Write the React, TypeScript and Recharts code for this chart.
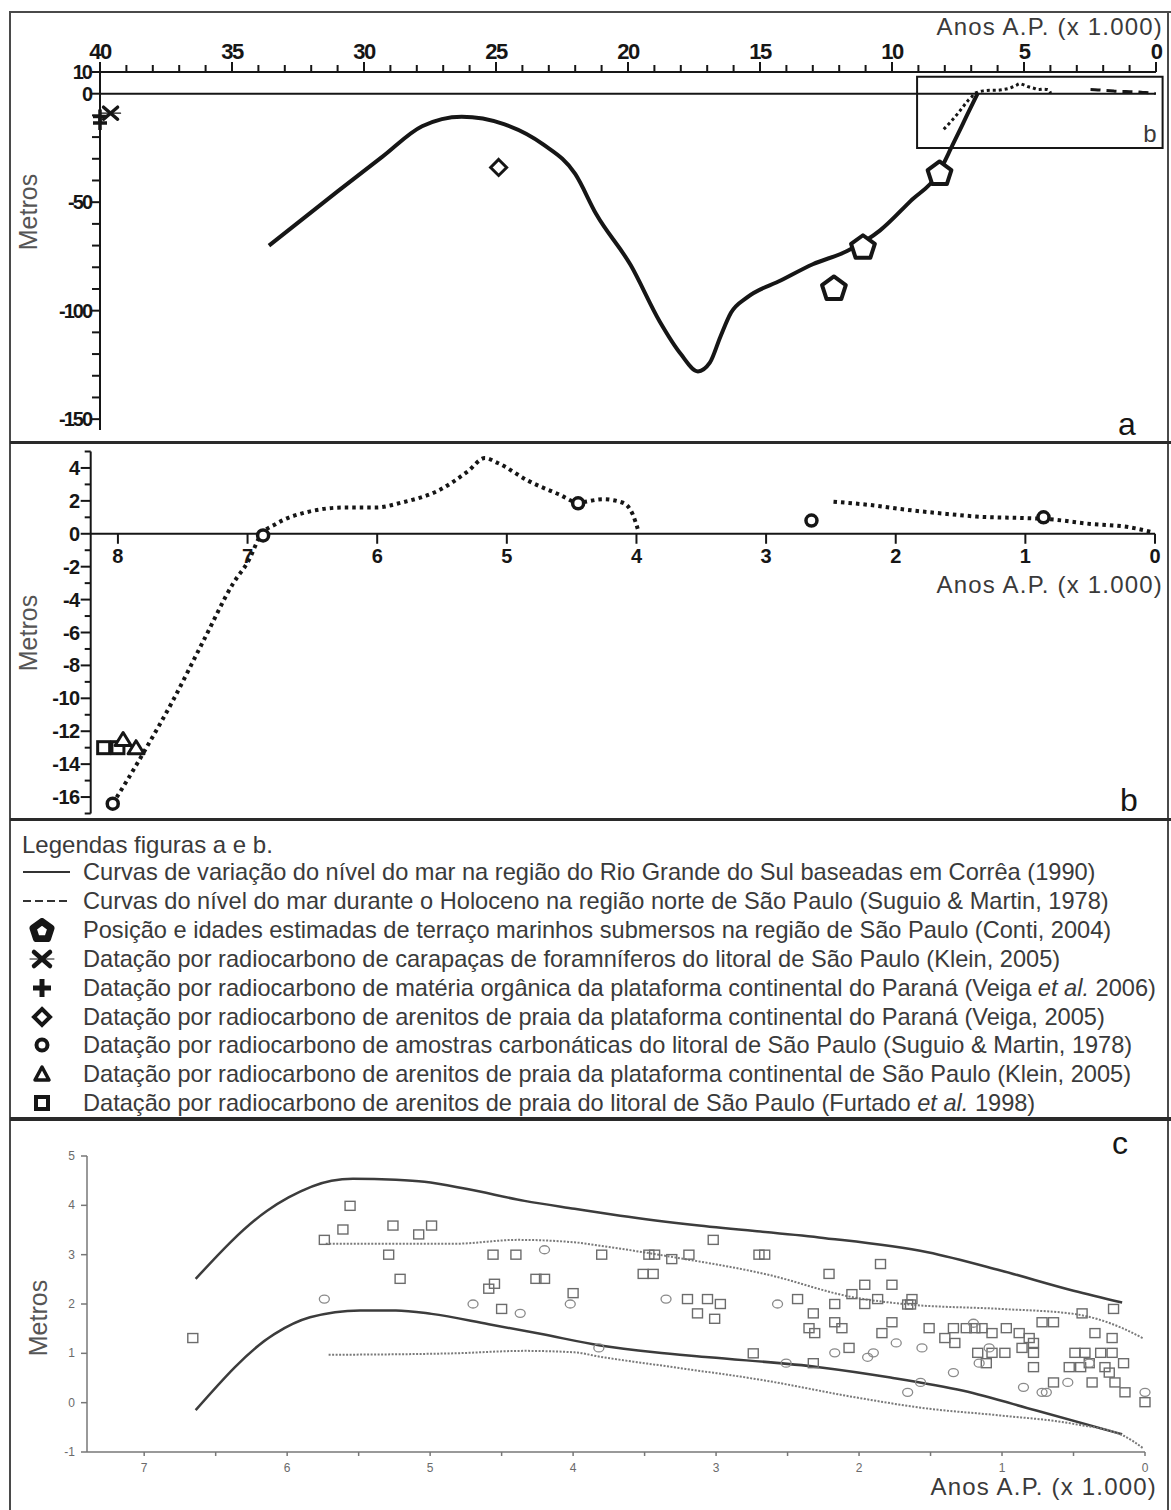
import React from "react";
import {
  ComposedChart, Line, Scatter, XAxis, YAxis, ReferenceLine, ReferenceArea,
} from "recharts";

const FONT = "'Liberation Sans', Arial, sans-serif";
const INK = "#161616";
const TXT = "#3a3a3a";

const pts = (a: number[][]) => a.map(([x, y]) => ({ x, y }));

// ---------- a: ultimos 40 mil anos (idade em ka AP, nivel em m)
const correaCurve = pts([
  [33.6, -70], [31.0, -45], [29.3, -29], [27.8, -15], [26.3, -10.6], [24.7, -14],
  [23.2, -23.5], [22.0, -37], [21.2, -55.6], [19.9, -79], [18.8, -105], [18.0, -120],
  [17.35, -128], [16.9, -124], [16.5, -112], [16.1, -101], [15.5, -94], [14.2, -86],
  [13.0, -78.6], [11.7, -72.5], [10.45, -63], [9.3, -49.5], [8.26, -37], [7.7, -23.5],
  [7.15, -9.7], [6.74, 0.5],
]);
const contiTerraces = pts([[8.2, -37], [11.1, -71], [12.2, -90]]);
const kleinForams = pts([[39.6, -9]]);
const veigaOrganic = pts([[40, -10.5], [40, -13.5]]);
const veigaBeachrock = pts([[24.9, -34]]);
const ageTicksA = Array.from({ length: 41 }, (_, i) => 40 - i);
const depthTicksA = [10, 0, -10, -20, -30, -40, -50, -60, -70, -80, -90, -100, -110, -120, -130, -140, -150];

// ---------- b: Holoceno (Suguio & Martin)
const holoceneEarly = pts([
  [8.04, -16.4], [7.93, -15.0], [7.78, -13.0], [7.58, -10.2], [7.34, -6.5], [7.11, -3.0],
  [6.99, -1.6], [6.9, -0.1], [6.78, 0.6], [6.55, 1.3], [6.25, 1.6], [6.01, 1.6], [5.81, 1.9],
  [5.51, 2.7], [5.3, 3.8], [5.17, 4.6], [5.07, 4.3], [4.83, 3.2], [4.6, 2.4], [4.45, 1.9],
  [4.26, 2.1], [4.11, 1.9], [4.03, 1.2], [3.99, 0.3],
]);
const holoceneLate = pts([
  [2.48, 1.95], [2.2, 1.75], [1.96, 1.5], [1.6, 1.2], [1.38, 1.05], [1.0, 0.95],
  [0.84, 0.9], [0.5, 0.6], [0.2, 0.4], [0.02, 0.1],
]);
const suguioCarbonates = pts([[8.04, -16.4], [6.88, -0.1], [4.45, 1.85], [2.65, 0.8], [0.86, 1.0]]);
const kleinBeachrockB = pts([[7.96, -12.5], [7.86, -13.0]]);
const furtadoBeachrockB = pts([[8.11, -13.0], [8.0, -13.0]]);
const ageTicksB = pts([[8, 0], [7, 0], [6, 0], [5, 0], [4, 0], [3, 0], [2, 0], [1, 0], [0, 0]]);
const depthTicksB = Array.from({ length: 23 }, (_, i) => 5 - i);

// ---------- c: envelope e datacoes
const upperSolid = pts([
  [6.64, 2.51], [6.14, 3.89], [5.99, 4.16], [5.69, 4.5], [5.54, 4.54], [5.24, 4.52],
  [5.04, 4.48], [4.74, 4.33], [4.34, 4.09], [3.99, 3.93], [3.67, 3.79], [3.12, 3.59],
  [2.28, 3.35], [1.52, 3.05], [1.01, 2.68], [0.5, 2.27], [0.16, 2.03],
]);
const lowerSolid = pts([
  [6.64, -0.15], [6.09, 1.39], [5.84, 1.73], [5.49, 1.87], [5.24, 1.87], [4.99, 1.8],
  [4.59, 1.59], [4.22, 1.39], [3.81, 1.16], [3.43, 1.02], [3.05, 0.92], [2.28, 0.72],
  [1.78, 0.51], [1.27, 0.24], [0.76, -0.16], [0.16, -0.64],
]);
const upperDotted = pts([
  [5.73, 3.22], [4.84, 3.22], [4.39, 3.3], [3.99, 3.25], [3.81, 3.18], [3.3, 2.95],
  [2.66, 2.61], [2.03, 2.13], [1.65, 1.99], [1.01, 1.9], [0.5, 1.8], [0.15, 1.5], [0.01, 1.3],
]);
const lowerDotted = pts([
  [5.71, 0.97], [4.84, 1.0], [4.34, 1.05], [3.99, 1.02], [3.81, 0.93], [3.3, 0.72],
  [2.66, 0.45], [2.03, 0.11], [1.52, -0.12], [1.01, -0.26], [0.5, -0.43], [0.15, -0.67], [0.01, -0.93],
]);
const squaresC = pts([
  [6.66, 1.31], [5.74, 3.3], [5.56, 3.99], [5.61, 3.51], [5.29, 3.0], [5.26, 3.59], [5.21, 2.51],
  [5.08, 3.41], [4.99, 3.59], [4.56, 3.0], [4.4, 3.0], [4.59, 2.31], [4.55, 2.41], [4.5, 1.9],
  [4.26, 2.51], [4.2, 2.51], [4.0, 2.22], [3.8, 3.0], [3.47, 3.0], [3.43, 3.0], [3.51, 2.61],
  [3.44, 2.61], [3.31, 2.91], [3.19, 3.0], [3.02, 3.3], [2.7, 3.0], [2.66, 3.0], [3.2, 2.1],
  [3.06, 2.1], [2.97, 2.0], [3.13, 1.81], [3.01, 1.7], [2.74, 1.0], [2.43, 2.1], [2.32, 1.81],
  [2.32, 0.8], [2.35, 1.51], [2.31, 1.41], [2.21, 2.61], [2.17, 2.0], [2.17, 1.63], [2.12, 1.51],
  [2.07, 1.11], [2.05, 2.2], [1.96, 2.39], [1.96, 2.0], [1.87, 2.1], [1.85, 2.81], [1.77, 2.39],
  [1.77, 1.63], [1.84, 1.41], [1.66, 1.99], [1.63, 2.1], [1.64, 1.99], [1.51, 1.51], [1.4, 1.31],
  [1.34, 1.51], [1.33, 1.21], [1.25, 1.51], [1.19, 1.51], [1.14, 1.51], [1.07, 1.41], [0.97, 1.51],
  [0.88, 1.41], [0.81, 1.31], [0.78, 1.21], [1.17, 1.01], [1.07, 1.01], [0.98, 1.01], [0.86, 1.11],
  [0.78, 1.01], [1.11, 0.8], [0.78, 0.72], [0.72, 1.63], [0.64, 1.63], [0.64, 0.41], [0.53, 0.72],
  [0.49, 1.01], [0.44, 1.81], [0.42, 1.01], [0.45, 0.72], [0.39, 0.8], [0.37, 0.41], [0.35, 1.41],
  [0.31, 1.01], [0.28, 0.72], [0.25, 0.61], [0.23, 1.01], [0.23, 1.31], [0.22, 1.9], [0.21, 0.41],
  [0.15, 0.8], [0.14, 0.21], [0.0, 0.01],
]);
const circlesC = pts([
  [5.74, 2.1], [4.7, 2.0], [4.37, 1.81], [4.2, 3.1], [4.02, 2.0], [3.82, 1.11], [3.35, 2.1],
  [2.57, 2.0], [2.51, 0.8], [2.17, 1.01], [1.94, 0.92], [1.9, 1.01], [1.74, 1.21], [1.56, 1.11],
  [1.57, 0.41], [1.66, 0.21], [1.34, 0.61], [1.2, 1.61], [1.09, 1.11], [1.16, 0.8], [0.85, 0.31],
  [0.72, 0.21], [0.69, 0.21], [0.54, 0.41], [0.39, 0.8], [0.0, 0.21],
]);
const ageTicksC = Array.from({ length: 15 }, (_, i) => i * 0.5);
const depthTicksC = [-1, 0, 1, 2, 3, 4, 5];

// ---------- simbolos
function pentagonPoints(cx: number, cy: number, r: number) {
  return [0, 1, 2, 3, 4]
    .map((k) => {
      const a = -Math.PI / 2 + (k * 2 * Math.PI) / 5;
      return `${cx + r * Math.cos(a)},${cy + r * Math.sin(a)}`;
    })
    .join(" ");
}
const Pentagon = (p: any) => (
  <polygon points={pentagonPoints(p.cx, p.cy, 12.5)} fill="#fff" stroke={INK} strokeWidth={4} strokeLinejoin="round" />
);
const Star = (p: any) => (
  <g stroke={INK} strokeLinecap="round">
    <line x1={p.cx - 7} y1={p.cy - 6} x2={p.cx + 7} y2={p.cy + 6} strokeWidth={3.5} />
    <line x1={p.cx - 7} y1={p.cy + 6} x2={p.cx + 7} y2={p.cy - 6} strokeWidth={3.5} />
    <line x1={p.cx - 10} y1={p.cy} x2={p.cx + 10} y2={p.cy} strokeWidth={1.2} />
  </g>
);
const Plus = (p: any) => (
  <g stroke={INK} strokeWidth={3.5}>
    <line x1={p.cx - 7} y1={p.cy} x2={p.cx + 7} y2={p.cy} />
    <line x1={p.cx} y1={p.cy - 7} x2={p.cx} y2={p.cy + 7} />
  </g>
);
const Diamond = (p: any) => (
  <polygon
    points={`${p.cx},${p.cy - 8} ${p.cx + 8},${p.cy} ${p.cx},${p.cy + 8} ${p.cx - 8},${p.cy}`}
    fill="#fff" stroke={INK} strokeWidth={3} />
);
const Ring = (p: any) => <circle cx={p.cx} cy={p.cy} r={5.5} fill="#fff" stroke={INK} strokeWidth={3.5} />;
const Tri = (p: any) => (
  <polygon
    points={`${p.cx},${p.cy - 7} ${p.cx + 8},${p.cy + 6} ${p.cx - 8},${p.cy + 6}`}
    fill="#fff" stroke={INK} strokeWidth={3} strokeLinejoin="round" />
);
const Sq = (p: any) => <rect x={p.cx - 6} y={p.cy - 6} width={12} height={12} fill="#fff" stroke={INK} strokeWidth={3} />;
const SqC = (p: any) => <rect x={p.cx - 5} y={p.cy - 4.5} width={10} height={9} fill="none" stroke="#6c6c6c" strokeWidth={1.4} />;
const CircC = (p: any) => <ellipse cx={p.cx} cy={p.cy} rx={5} ry={4} fill="none" stroke="#8a8a8a" strokeWidth={1.3} />;

// ---------- ticks
const boldTxt = { fontFamily: FONT, fontWeight: 700, fill: INK } as const;

function TopAgeTick(p: any) {
  const { x, y, payload } = p;
  const v = payload.value;
  const major = v % 5 === 0;
  return (
    <g>
      <line x1={x} x2={x} y1={y} y2={y - (major ? 10 : 7)} stroke={INK} strokeWidth={2} />
      {major && (
        <text x={x} y={y - 13} textAnchor="middle" fontSize={22} letterSpacing={-1.5} {...boldTxt}>{v}</text>
      )}
    </g>
  );
}
function DepthTickA(p: any) {
  const { x, y, payload } = p;
  const v = payload.value;
  const major = v % 50 === 0 || v === 10;
  return (
    <g>
      <line x1={x} x2={x - 8} y1={y} y2={y} stroke={INK} strokeWidth={2} />
      {major && (
        <text x={x - 9} y={y} dy={7} textAnchor="end" fontSize={20} letterSpacing={-2} {...boldTxt}>{v}</text>
      )}
    </g>
  );
}
function DepthTickB(p: any) {
  const { x, y, payload } = p;
  const v = payload.value;
  const major = v % 2 === 0 && v >= -16 && v <= 4;
  return (
    <g>
      <line x1={x} x2={x - (major ? 10 : 6)} y1={y} y2={y} stroke={INK} strokeWidth={2} />
      {major && (
        <text x={x - 11} y={y} dy={7} textAnchor="end" fontSize={20} letterSpacing={-0.5} {...boldTxt}>{v}</text>
      )}
    </g>
  );
}
const AgeTickB = (p: any) => (
  <g>
    <line x1={p.cx} x2={p.cx} y1={p.cy} y2={p.cy + 10} stroke={INK} strokeWidth={2} />
    <text x={p.cx} y={p.cy + 29} textAnchor="middle" fontSize={20} {...boldTxt}>{p.payload.x}</text>
  </g>
);
function AgeTickC(p: any) {
  const { x, y, payload } = p;
  const v = payload.value;
  const major = Number.isInteger(v);
  return (
    <g>
      <line x1={x} x2={x} y1={y} y2={y + 4} stroke="#777" strokeWidth={1.5} />
      {major && (
        <text x={x} y={y + 20} textAnchor="middle" fontFamily={FONT} fontSize={12} fill="#6a6a6a">{v}</text>
      )}
    </g>
  );
}
function DepthTickC(p: any) {
  const { x, y, payload } = p;
  return (
    <g>
      <line x1={x} x2={x - 6} y1={y} y2={y} stroke="#777" strokeWidth={1.5} />
      <text x={x - 12} y={y} dy={4} textAnchor="end" fontFamily={FONT} fontSize={12} fill="#6a6a6a">{payload.value}</text>
    </g>
  );
}

// ---------- textos
const anosStyle: React.CSSProperties = {
  position: "absolute", right: 8, fontFamily: FONT, fontSize: 24, letterSpacing: 1.2,
  color: TXT, whiteSpace: "nowrap", lineHeight: "28px",
};
const Metros = ({ cx, cy }: { cx: number; cy: number }) => (
  <div style={{
    position: "absolute", left: cx - 50, top: cy - 14, width: 100, height: 28, lineHeight: "28px",
    textAlign: "center", transform: "rotate(-90deg)", fontFamily: FONT, fontSize: 25, color: "#555",
  }}>Metros</div>
);
const PanelLetter = ({ x, y, t }: { x: number; y: number; t: string }) => (
  <div style={{ position: "absolute", left: x, top: y - 20, lineHeight: "40px", fontFamily: FONT, fontSize: 32, color: INK }}>{t}</div>
);

const legendItems: { sym: string; text: React.ReactNode }[] = [
  { sym: "solid", text: "Curvas de variação do nível do mar na região do Rio Grande do Sul baseadas em Corrêa (1990)" },
  { sym: "dash", text: "Curvas do nível do mar durante o Holoceno na região norte de São Paulo (Suguio & Martin, 1978)" },
  { sym: "pent", text: "Posição e idades estimadas de terraço marinhos submersos na região de São Paulo (Conti, 2004)" },
  { sym: "star", text: "Datação por radiocarbono de carapaças de foramníferos do litoral de São Paulo (Klein, 2005)" },
  { sym: "plus", text: <>Datação por radiocarbono de matéria orgânica da plataforma continental do Paraná (Veiga <i>et al.</i> 2006)</> },
  { sym: "diam", text: "Datação por radiocarbono de arenitos de praia da plataforma continental do Paraná (Veiga, 2005)" },
  { sym: "circ", text: "Datação por radiocarbono de amostras carbonáticas do litoral de São Paulo (Suguio & Martin, 1978)" },
  { sym: "tri", text: "Datação por radiocarbono de arenitos de praia da plataforma continental de São Paulo (Klein, 2005)" },
  { sym: "sq", text: <>Datação por radiocarbono de arenitos de praia do litoral de São Paulo (Furtado <i>et al.</i> 1998)</> },
];

function LegendSymbol({ kind }: { kind: string }) {
  let el: React.ReactNode = null;
  if (kind === "solid") el = <line x1={1} x2={48} y1={12} y2={12} stroke="#333" strokeWidth={2} />;
  else if (kind === "dash") el = <line x1={1} x2={48} y1={12} y2={12} stroke="#333" strokeWidth={2} strokeDasharray="8 4" />;
  else if (kind === "pent") el = <polygon points={pentagonPoints(20, 13, 9.5)} fill="#fff" stroke={INK} strokeWidth={7} strokeLinejoin="round" />;
  else if (kind === "star") el = (
    <g stroke={INK} strokeLinecap="round">
      <line x1={12} y1={5} x2={28} y2={19} strokeWidth={4.5} />
      <line x1={12} y1={19} x2={28} y2={5} strokeWidth={4.5} />
      <line x1={8} y1={12} x2={32} y2={12} strokeWidth={1} />
    </g>
  );
  else if (kind === "plus") el = (
    <g stroke={INK} strokeWidth={5}>
      <line x1={11} y1={12} x2={29} y2={12} />
      <line x1={20} y1={3} x2={20} y2={21} />
    </g>
  );
  else if (kind === "diam") el = <polygon points="20,4 28,12 20,20 12,12" fill="#fff" stroke={INK} strokeWidth={4} />;
  else if (kind === "circ") el = <circle cx={20} cy={12} r={5.5} fill="#fff" stroke={INK} strokeWidth={4} />;
  else if (kind === "tri") el = <polygon points="20,5 27,18 13,18" fill="#fff" stroke={INK} strokeWidth={3.5} strokeLinejoin="round" />;
  else el = <rect x={14} y={6} width={12} height={12} fill="#fff" stroke={INK} strokeWidth={4} />;
  return <svg width={50} height={24} style={{ position: "absolute", left: 22, top: 2 }}>{el}</svg>;
}

const hLine = (top: number, h: number, color = "#2a2a2a") => (
  <div style={{ position: "absolute", left: 10, width: 1161, top, height: h, background: color }} />
);

export default function App() {
  return (
    <div style={{ position: "absolute", left: 0, top: 0, width: 1171, height: 1510, overflow: "hidden", background: "#fff" }}>
      {/* panel a */}
      <div style={{ position: "absolute", left: 0, top: 0 }}>
        <ComposedChart width={1171} height={440} margin={{ top: 42, right: 15, bottom: 10, left: 40 }}>
          <XAxis type="number" dataKey="x" orientation="top" domain={[0, 40]} reversed
            ticks={ageTicksA} interval={0} height={30} tickSize={0} tickMargin={0}
            axisLine={{ stroke: INK, strokeWidth: 2 }} tick={TopAgeTick} />
          <YAxis type="number" dataKey="y" domain={[-155, 10]} width={60}
            ticks={depthTicksA} interval={0} tickSize={0} tickMargin={0}
            axisLine={{ stroke: INK, strokeWidth: 2 }} tick={DepthTickA} />
          <ReferenceLine y={0} stroke={INK} strokeWidth={2} />
          <ReferenceArea x1={9.05} x2={-0.25} y1={-25} y2={7.8} ifOverflow="visible" fill="none"
            stroke={INK} strokeWidth={2} fillOpacity={0}
            label={{ value: "b", position: "insideBottomRight", offset: 6, fontSize: 24, fontFamily: FONT, fill: TXT }} />
          <Line data={correaCurve} dataKey="y" type="monotone" stroke={INK} strokeWidth={4} dot={false} isAnimationActive={false} />
          <Line data={holoceneEarly} dataKey="y" type="monotone" stroke={INK} strokeWidth={3} strokeDasharray="3 3" dot={false} isAnimationActive={false} />
          <Line data={holoceneLate} dataKey="y" type="monotone" stroke={INK} strokeWidth={3} strokeDasharray="10 6" dot={false} isAnimationActive={false} />
          <Scatter data={contiTerraces} dataKey="y" shape={Pentagon} isAnimationActive={false} />
          <Scatter data={kleinForams} dataKey="y" shape={Star} isAnimationActive={false} />
          <Scatter data={veigaOrganic} dataKey="y" shape={Plus} isAnimationActive={false} />
          <Scatter data={veigaBeachrock} dataKey="y" shape={Diamond} isAnimationActive={false} />
        </ComposedChart>
      </div>

      {/* panel b */}
      <div style={{ position: "absolute", left: 0, top: 443 }}>
        <ComposedChart width={1171} height={380} margin={{ top: 8.5, right: 16, bottom: 9.5, left: 30.7 }}>
          <XAxis type="number" dataKey="x" domain={[0, 8.21]} reversed hide />
          <YAxis type="number" dataKey="y" domain={[-17, 5]} width={60}
            ticks={depthTicksB} interval={0} tickSize={0} tickMargin={0}
            axisLine={{ stroke: INK, strokeWidth: 2 }} tick={DepthTickB} />
          <ReferenceLine y={0} stroke={INK} strokeWidth={2} />
          <Scatter data={ageTicksB} dataKey="y" shape={AgeTickB} isAnimationActive={false} />
          <Line data={holoceneEarly} dataKey="y" type="monotone" stroke={INK} strokeWidth={4} strokeDasharray="3.5 4" dot={false} isAnimationActive={false} />
          <Line data={holoceneLate} dataKey="y" type="monotone" stroke={INK} strokeWidth={4} strokeDasharray="3.5 4" dot={false} isAnimationActive={false} />
          <Scatter data={furtadoBeachrockB} dataKey="y" shape={Sq} isAnimationActive={false} />
          <Scatter data={kleinBeachrockB} dataKey="y" shape={Tri} isAnimationActive={false} />
          <Scatter data={suguioCarbonates} dataKey="y" shape={Ring} isAnimationActive={false} />
        </ComposedChart>
      </div>

      {/* panel c */}
      <div style={{ position: "absolute", left: 0, top: 1122 }}>
        <ComposedChart width={1171} height={388} margin={{ top: 34, right: 26, bottom: 28, left: 37 }}>
          <XAxis type="number" dataKey="x" domain={[0, 7.4]} reversed
            ticks={ageTicksC} interval={0} height={30} tickSize={0} tickMargin={0}
            axisLine={{ stroke: "#777", strokeWidth: 1.5 }} tick={AgeTickC} />
          <YAxis type="number" dataKey="y" domain={[-1, 5]} width={50}
            ticks={depthTicksC} interval={0} tickSize={0} tickMargin={0}
            axisLine={{ stroke: "#777", strokeWidth: 1.5 }} tick={DepthTickC} />
          <Line data={upperSolid} dataKey="y" type="monotone" stroke="#3c3c3c" strokeWidth={2.5} dot={false} isAnimationActive={false} />
          <Line data={lowerSolid} dataKey="y" type="monotone" stroke="#3c3c3c" strokeWidth={2.5} dot={false} isAnimationActive={false} />
          <Line data={upperDotted} dataKey="y" type="monotone" stroke="#7a7a7a" strokeWidth={2} strokeDasharray="2 1.5" dot={false} isAnimationActive={false} />
          <Line data={lowerDotted} dataKey="y" type="monotone" stroke="#7a7a7a" strokeWidth={2} strokeDasharray="2 1.5" dot={false} isAnimationActive={false} />
          <Scatter data={squaresC} dataKey="y" shape={SqC} isAnimationActive={false} />
          <Scatter data={circlesC} dataKey="y" shape={CircC} isAnimationActive={false} />
        </ComposedChart>
      </div>

      {/* textos dos paineis */}
      <div style={{ ...anosStyle, top: 13 }}>Anos A.P. (x 1.000)</div>
      <Metros cx={28} cy={212} />
      <PanelLetter x={1118} y={424} t="a" />

      <div style={{ ...anosStyle, top: 571 }}>Anos A.P. (x 1.000)</div>
      <Metros cx={28} cy={633} />
      <PanelLetter x={1120} y={800} t="b" />

      <PanelLetter x={1112} y={1143} t="c" />
      <Metros cx={38} cy={1318} />
      <div style={{ ...anosStyle, top: 1473, right: 14 }}>Anos A.P. (x 1.000)</div>

      {/* legenda */}
      <div style={{ position: "absolute", left: 22, top: 831, lineHeight: "28px", fontFamily: FONT, fontSize: 24, color: TXT, whiteSpace: "nowrap" }}>
        Legendas figuras a e b.
      </div>
      {legendItems.map((it, i) => (
        <div key={i} style={{ position: "absolute", left: 0, top: 858 + i * 28.9, width: 1171, height: 28 }}>
          <LegendSymbol kind={it.sym} />
          <div style={{ position: "absolute", left: 83, top: 0, lineHeight: "28px", fontFamily: FONT, fontSize: 23.6, color: TXT, whiteSpace: "nowrap" }}>
            {it.text}
          </div>
        </div>
      ))}

      {/* molduras */}
      <div style={{ position: "absolute", left: 9, top: 11, width: 2, height: 1499, background: "#4a4a4a" }} />
      <div style={{ position: "absolute", left: 1167, top: 11, width: 2, height: 1499, background: "#4a4a4a" }} />
      {hLine(11, 2, "#4a4a4a")}
      {hLine(441, 3)}
      {hLine(818, 3)}
      {hLine(1117, 4)}
    </div>
  );
}
